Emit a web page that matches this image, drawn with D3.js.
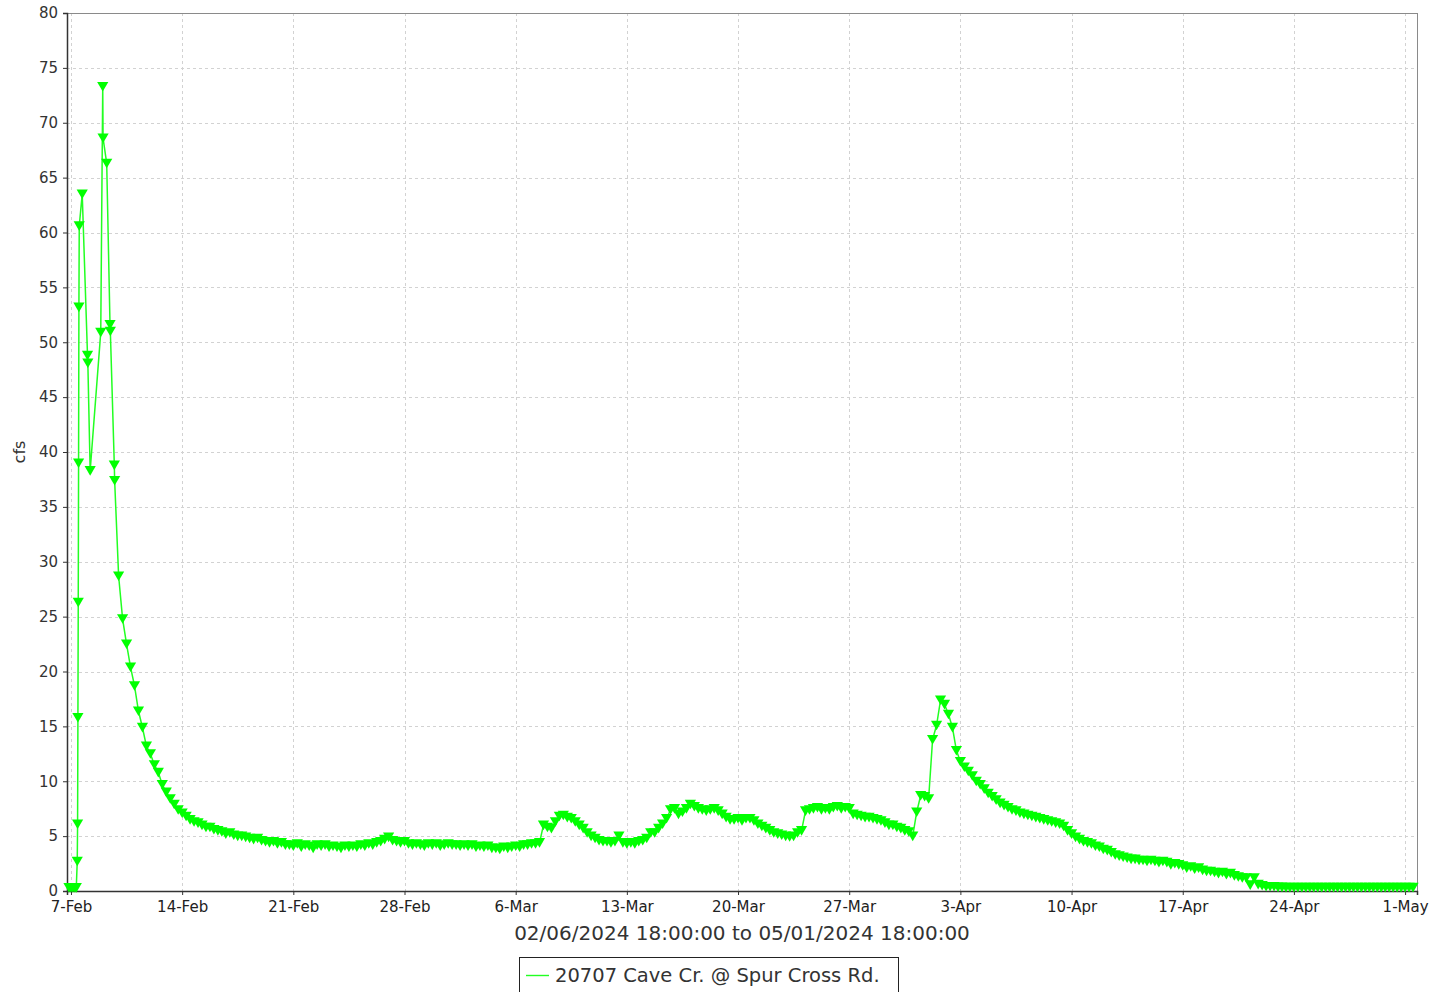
<!DOCTYPE html>
<html>
<head>
<meta charset="utf-8">
<script src="https://cdn.jsdelivr.net/npm/d3@7"></script>
<style>
  html, body { margin: 0; padding: 0; background: #fff; }
  svg { display: block; font-family: "DejaVu Sans", sans-serif; }
</style>
</head>
<body>
<svg id="chart" width="1448" height="992"></svg>
<script>
// ---------------- DATA ----------------
const seriesName = "20707 Cave Cr. @ Spur Cross Rd.";
const axisTitle = "02/06/2024 18:00:00 to 05/01/2024 18:00:00";
const yLabel = "cfs";
const startUTC = Date.UTC(2024, 1, 6, 18);   // 02/06/2024 18:00
const endUTC = Date.UTC(2024, 4, 1, 18);     // 05/01/2024 18:00
const xTickDates = ["2024-02-07","2024-02-14","2024-02-21","2024-02-28","2024-03-06","2024-03-13",
                    "2024-03-20","2024-03-27","2024-04-03","2024-04-10","2024-04-17","2024-04-24","2024-05-01"];
const yTicks = [0,5,10,15,20,25,30,35,40,45,50,55,60,65,70,75,80];

// storm of 7-9 Feb: irregular report times (hours after start)
const stormHours = [3, 6, 9, 12, 14, 15.5, 16, 16.5, 17, 17.5, 18, 18.5, 23, 31, 31.5, 35, 51, 54, 54.5, 60, 65, 65.5, 71.5];
const stormCfs   = [0.3, 0.3, 0.3, 0.3, 0.3, 2.7, 6.1, 15.8, 26.3, 39.0, 53.2, 60.6, 63.5, 48.8, 48.1, 38.3, 50.9, 73.3, 68.6, 66.3, 51.6, 51.0, 38.8];

// afterwards: one report every 6 hours, starting 72 h after start (one row per day)
const recessionStartHour = 72;
const recessionStepHours = 6;
const recessionCfs = [
  37.4, 28.7, 24.8, 22.5,
  20.4, 18.7, 16.4, 14.9,
  13.2, 12.5, 11.5, 10.8,
  9.7, 9.0, 8.4, 7.9,
  7.4, 7.1, 6.8, 6.5,
  6.3, 6.2, 6.0, 5.8,
  5.8, 5.6, 5.5, 5.4,
  5.2, 5.3, 5.1, 5.0,
  5.0, 4.9, 4.8, 4.7,
  4.8, 4.6, 4.5, 4.4,
  4.5, 4.3, 4.4, 4.2,
  4.2, 4.1, 4.3, 4.0,
  4.2, 4.1, 3.9, 4.2,
  4.1, 4.2, 4.0, 4.1,
  4.0, 3.9, 4.1, 4.0,
  4.1, 4.0, 4.2, 4.1,
  4.3, 4.2, 4.4, 4.5,
  4.7, 4.9, 4.6, 4.5,
  4.4, 4.5, 4.3, 4.2,
  4.3, 4.2, 4.1, 4.3,
  4.2, 4.3, 4.1, 4.2,
  4.3, 4.2, 4.2, 4.1,
  4.2, 4.1, 4.2, 4.0,
  4.1, 4.0, 4.1, 3.9,
  3.9, 3.8, 4.0, 3.9,
  4.0, 4.1, 4.0, 4.2,
  4.2, 4.3, 4.3, 4.4,
  6.0, 5.8, 5.7, 6.3,
  6.8, 6.9, 6.7, 6.6,
  6.3, 6.0, 5.7, 5.3,
  5.0, 4.8, 4.6, 4.5,
  4.5, 4.4, 4.5, 5.0,
  4.4, 4.3, 4.4, 4.3,
  4.5, 4.6, 4.8, 5.3,
  5.3, 5.7, 6.1, 6.6,
  7.4, 7.5, 7.0, 7.2,
  7.5, 7.9, 7.7, 7.5,
  7.4, 7.3, 7.4, 7.5,
  7.3, 7.0, 6.7, 6.5,
  6.5, 6.6, 6.4, 6.6,
  6.6, 6.4, 6.1, 5.9,
  5.7, 5.5, 5.3, 5.2,
  5.1, 5.0, 4.95, 5.0,
  5.3, 5.5, 7.3, 7.4,
  7.5, 7.6, 7.4, 7.5,
  7.4, 7.6, 7.7, 7.5,
  7.6, 7.5, 7.0, 6.9,
  6.8, 6.7, 6.7, 6.6,
  6.5, 6.4, 6.2, 6.0,
  6.0, 5.8, 5.7, 5.5,
  5.4, 5.0, 7.2, 8.7,
  8.6, 8.4, 13.8, 15.1,
  17.4, 17.0, 16.1, 14.9,
  12.8, 11.8, 11.3, 10.9,
  10.5, 10.0, 9.7, 9.3,
  8.9, 8.6, 8.3, 8.0,
  7.8, 7.6, 7.4, 7.3,
  7.1, 7.0, 6.9, 6.8,
  6.7, 6.6, 6.5, 6.4,
  6.3, 6.2, 6.1, 5.9,
  5.5, 5.2, 4.9, 4.7,
  4.5, 4.4, 4.3, 4.1,
  4.0, 3.8, 3.7, 3.5,
  3.3, 3.2, 3.1, 3.0,
  2.9, 2.9, 2.8, 2.8,
  2.7, 2.8, 2.7, 2.6,
  2.7, 2.6, 2.4, 2.5,
  2.4, 2.3, 2.1, 2.2,
  2.0, 2.1, 1.9, 1.8,
  1.8, 1.7, 1.6, 1.7,
  1.5, 1.6, 1.4, 1.3,
  1.2, 1.2, 0.55, 1.2,
  0.6, 0.5, 0.4, 0.4,
  0.4, 0.35, 0.35, 0.33,
  0.33, 0.33, 0.33, 0.33,
  0.33, 0.33, 0.33, 0.33,
  0.33, 0.33, 0.33, 0.33,
  0.33, 0.33, 0.33, 0.33,
  0.33, 0.33, 0.33, 0.33,
  0.33, 0.33, 0.33, 0.33,
  0.33, 0.33, 0.33, 0.33,
  0.33, 0.33, 0.33, 0.33
];

// ---------------- BUILD ----------------
const HOUR = 3600 * 1000;
const points = stormHours.map((h, i) => ({ t: new Date(startUTC + h * HOUR), v: stormCfs[i] }))
  .concat(recessionCfs.map((v, i) => ({ t: new Date(startUTC + (recessionStartHour + i * recessionStepHours) * HOUR), v })))
  .filter(d => +d.t <= endUTC);

const plot = { left: 67, right: 1417, top: 13, bottom: 891 };
const svg = d3.select("#chart");

const x = d3.scaleUtc().domain([new Date(startUTC), new Date(endUTC)]).range([plot.left, plot.right]);
const y = d3.scaleLinear().domain([0, 80]).range([plot.bottom, plot.top]);
const tickDates = xTickDates.map(s => new Date(s + "T00:00:00Z"));
const fmt = d3.utcFormat("%-d-%b");

// background
svg.append("rect").attr("x", plot.left).attr("y", plot.top)
  .attr("width", plot.right - plot.left).attr("height", plot.bottom - plot.top)
  .attr("fill", "#fff");

// gridlines
const grid = svg.append("g").attr("stroke", "#d2d2d2").attr("stroke-width", 1).attr("stroke-dasharray", "3,3");
grid.selectAll("line.gy").data(yTicks.filter(t => t > 0 && t < 80)).join("line")
  .attr("x1", plot.left).attr("x2", plot.right)
  .attr("y1", d => Math.round(y(d)) + 0.5).attr("y2", d => Math.round(y(d)) + 0.5);
grid.selectAll("line.gx").data(tickDates).join("line")
  .attr("y1", plot.top).attr("y2", plot.bottom)
  .attr("x1", d => Math.round(x(d)) + 0.5).attr("x2", d => Math.round(x(d)) + 0.5);

// outline (top/right)
svg.append("rect").attr("x", plot.left + 0.5).attr("y", plot.top + 0.5)
  .attr("width", plot.right - plot.left).attr("height", plot.bottom - plot.top)
  .attr("fill", "none").attr("stroke", "#8a8a8a").attr("stroke-width", 1);

// axes
const yAxis = d3.axisLeft(y).tickValues(yTicks).tickSize(4).tickPadding(5).tickFormat(d3.format("d"));
const gy = svg.append("g").attr("transform", `translate(${plot.left},0)`).call(yAxis);
gy.select(".domain").attr("stroke", "#333").attr("stroke-width", 1.5);
gy.selectAll(".tick line").attr("stroke", "#333");
gy.selectAll(".tick text").attr("fill", "#333").style("font-size", "15px").style("font-family", "DejaVu Sans");

const xAxis = d3.axisBottom(x).tickValues(tickDates).tickSize(4).tickPadding(6).tickFormat(fmt);
const gx = svg.append("g").attr("transform", `translate(0,${plot.bottom})`).call(xAxis);
gx.select(".domain").attr("stroke", "#333").attr("stroke-width", 1.5);
gx.selectAll(".tick line").attr("stroke", "#333");
gx.selectAll(".tick text").attr("fill", "#222").style("font-size", "15px").style("font-family", "DejaVu Sans");

// y label
svg.append("text").attr("transform", `translate(25,${(plot.top + plot.bottom) / 2}) rotate(-90)`)
  .attr("text-anchor", "middle").attr("fill", "#333").style("font-size", "16px").text(yLabel);

// axis title
svg.append("text").attr("x", (plot.left + plot.right) / 2).attr("y", 940)
  .attr("text-anchor", "middle").attr("fill", "#333").style("font-size", "20px").text(axisTitle);

// series
const line = d3.line().x(d => x(d.t)).y(d => y(d.v));
const series = svg.append("g");
series.append("path").datum(points).attr("d", line)
  .attr("fill", "none").attr("stroke", "#22ff22").attr("stroke-width", 1.5).attr("stroke-linejoin", "round");
const tri = "M0,5L5.6,-4.6L-5.6,-4.6Z";
series.selectAll("path.m").data(points).join("path").attr("class", "m")
  .attr("d", tri).attr("transform", d => `translate(${x(d.t)},${y(d.v)})`)
  .attr("fill", "#00ff00");

// legend
const lg = svg.append("g");
lg.append("rect").attr("x", 519.5).attr("y", 957.5).attr("width", 379).attr("height", 44)
  .attr("fill", "#fff").attr("stroke", "#222").attr("stroke-width", 1);
lg.append("line").attr("x1", 526).attr("x2", 549).attr("y1", 975.5).attr("y2", 975.5)
  .attr("stroke", "#22ff22").attr("stroke-width", 1.4);
lg.append("text").attr("x", 555).attr("y", 982).attr("fill", "#333")
  .style("font-size", "19.5px").text(seriesName);
</script>
</body>
</html>
